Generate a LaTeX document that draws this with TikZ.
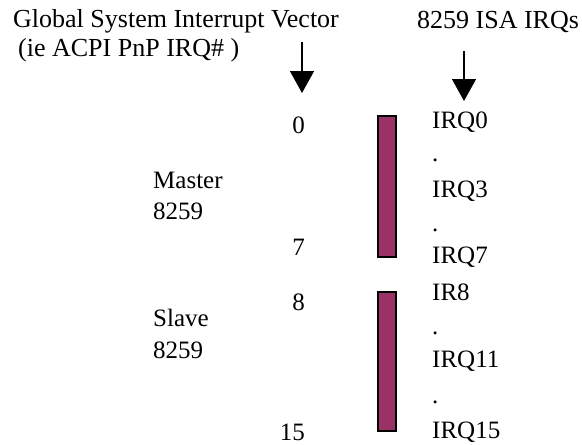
\documentclass[tikz,border=0pt]{standalone}
\usepackage{fontspec}
\setmainfont{Liberation Serif}
\usetikzlibrary{arrows.meta}
\definecolor{irqbar}{HTML}{993366}

\begin{document}
\begin{tikzpicture}[%
	x=1pt, y=-1pt,
	>={Triangle[width=24pt,length=22pt]},
	every node/.style={inner sep=0pt, font=\fontsize{25}{30}\selectfont},
	head/.style={anchor=base west, font=\fontsize{26}{30}\selectfont},
	lbl/.style={anchor=base west},
	num/.style={anchor=base east},
	bar/.style={draw, fill=irqbar, line width=1.5pt, minimum width=18pt, anchor=north west},
	pfeil/.style={draw, line width=1.5pt, ->}
]
\useasboundingbox (0,0) rectangle (582,445);

\node[head] (gsiv)   at (13,27)  {Global System Interrupt Vector};
\node[head] (acpi)   at (18,56)  {(ie ACPI PnP IRQ\# )};
\node[head] (isairq) at (417,28) {8259 ISA IRQs};

\coordinate (gsivTop) at (302,42);
\coordinate (gsivTip) at (302,93);
\coordinate (isaTop)  at (464,51);
\coordinate (isaTip)  at (464,101);

\path[pfeil] (gsivTop) -- (gsivTip);
\path[pfeil] (isaTop) -- (isaTip);

\node[lbl] (master)  at (153,188) {Master};
\node[lbl] (master2) at (153,219) {8259};
\node[lbl] (slave)   at (153,326) {Slave};
\node[lbl] (slave2)  at (153,358) {8259};

\node[num] (n0)  at (305,133) {0};
\node[num] (n7)  at (305,255) {7};
\node[num] (n8)  at (305,310) {8};
\node[num] (n15) at (305,440) {15};

\node[bar, minimum height=141pt] (masterbar) at (377,115) {};
\node[bar, minimum height=139pt] (slavebar)  at (377,291) {};

\node[lbl] (irq0)  at (432,128) {IRQ0};
\node[lbl] (dot1)  at (432,161) {.};
\node[lbl] (irq3)  at (432,197) {IRQ3};
\node[lbl] (dot2)  at (432,231) {.};
\node[lbl] (irq7)  at (432,263) {IRQ7};
\node[lbl] (ir8)   at (432,300) {IR8};
\node[lbl] (dot3)  at (432,334) {.};
\node[lbl] (irq11) at (432,367) {IRQ11};
\node[lbl] (dot4)  at (432,403) {.};
\node[lbl] (irq15) at (432,438) {IRQ15};

\end{tikzpicture}
\end{document}
